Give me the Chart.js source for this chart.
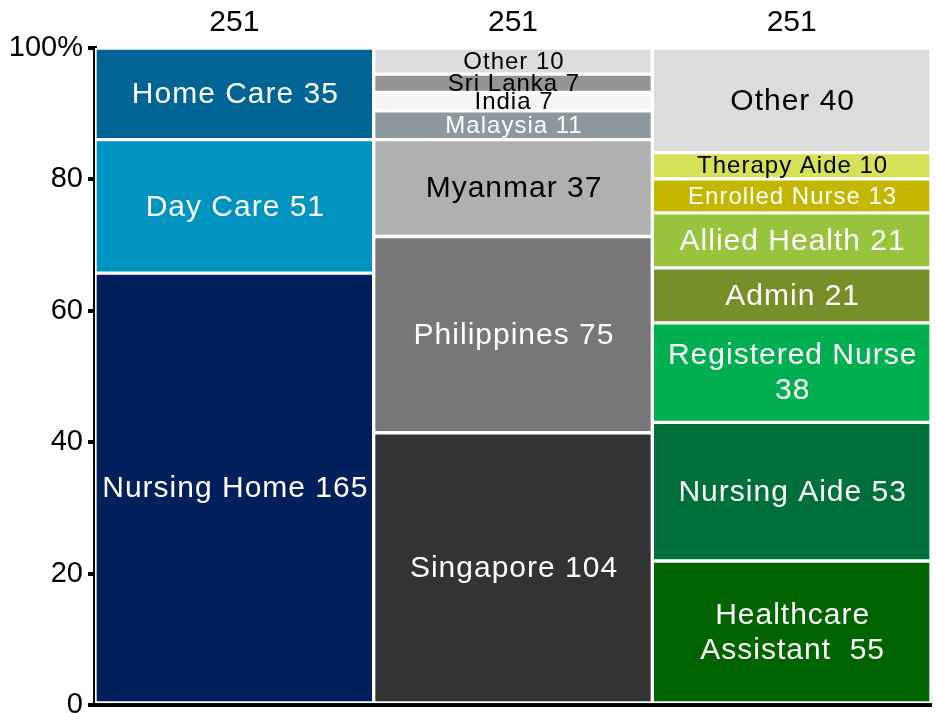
<!DOCTYPE html>
<html>
<head>
<meta charset="utf-8">
<script src="https://cdn.jsdelivr.net/npm/chart.js@4"></script>
<style>
  html, body { margin: 0; padding: 0; background: #fff; }
  #wrap { width: 937px; height: 713px; position: relative; }
</style>
</head>
<body>
<div id="wrap"><canvas id="chart"></canvas></div>
<script>
// categories (columns)
const categories = ['Setting', 'Nationality', 'Job'];

// column 1: care setting
const settingNames = ['Nursing Home', 'Day Care', 'Home Care'];
const settingCounts = [165, 51, 35];
const settingColors = ['#001f5b', '#0093c0', '#006594'];
const settingText = ['#fff', '#fff', '#fff'];

// column 2: nationality
const nationalityNames = ['Singapore', 'Philippines', 'Myanmar', 'Malaysia', 'India', 'Sri Lanka', 'Other'];
const nationalityCounts = [104, 75, 37, 11, 7, 7, 10];
const nationalityColors = ['#333333', '#777777', '#b0b0b0', '#8c979e', '#f5f5f5', '#949494', '#dcdcdc'];
const nationalityText = ['#fff', '#fff', '#000', '#fff', '#000', '#000', '#000'];

// column 3: job
const jobNames = ['Healthcare\nAssistant ', 'Nursing Aide', 'Registered Nurse\n', 'Admin', 'Allied Health', 'Enrolled Nurse', 'Therapy Aide', 'Other'];
const jobCounts = [55, 53, 38, 21, 21, 13, 10, 40];
const jobColors = ['#006400', '#00703a', '#00b050', '#768f28', '#98c33c', '#c5b700', '#d5e157', '#dcdcdc'];
const jobText = ['#fff', '#fff', '#fff', '#fff', '#fff', '#fff', '#000', '#000'];

const groups = [
  { names: settingNames, counts: settingCounts, colors: settingColors, text: settingText },
  { names: nationalityNames, counts: nationalityCounts, colors: nationalityColors, text: nationalityText },
  { names: jobNames, counts: jobCounts, colors: jobColors, text: jobText }
];
const totals = groups.map(g => g.counts.reduce((a, b) => a + b, 0));

const datasets = [];
groups.forEach((g, col) => {
  g.counts.forEach((n, i) => {
    const data = categories.map(() => null);
    data[col] = n / totals[col] * 100;
    datasets.push({
      label: g.names[i].replace('\n', ' ').trim(),
      data,
      backgroundColor: g.colors[i],
      textColor: g.text[i],
      text: g.names[i] + ' ' + n,
      small: n <= 13,
      stack: 's'
    });
  });
});

const FONT = "'Liberation Sans', Arial, sans-serif";

const labelPlugin = {
  id: 'segLabels',
  afterDatasetsDraw(chart) {
    const ctx = chart.ctx;
    ctx.save();
    ctx.textAlign = 'center';
    ctx.textBaseline = 'middle';
    ctx.letterSpacing = '1px';
    chart.data.datasets.forEach((ds, di) => {
      const meta = chart.getDatasetMeta(di);
      meta.data.forEach((bar, i) => {
        if (ds.data[i] == null) return;
        const p = bar.getProps(['x', 'y', 'base'], true);
        const cy = (p.y + p.base) / 2;
        const lines = ds.text.split('\n').map(s => s.replace(/^ /, ''));
        ctx.font = (ds.small ? 24 : 30) + 'px ' + FONT;
        ctx.fillStyle = ds.textColor;
        const lh = 35;
        lines.forEach((ln, k) => {
          ctx.fillText(ln, p.x + 1, cy + 1 + (k - (lines.length - 1) / 2) * lh);
        });
      });
    });
    // totals on top
    const xs = chart.scales.x;
    ctx.fillStyle = '#000';
    ctx.font = '30px ' + FONT;
    ctx.letterSpacing = '0px';
    totals.forEach((t, i) => {
      ctx.fillText(String(t), xs.getPixelForValue(i), 23);
    });
    ctx.restore();
  }
};

new Chart(document.getElementById('chart'), {
  type: 'bar',
  data: { labels: categories, datasets },
  plugins: [labelPlugin],
  options: {
    responsive: true,
    maintainAspectRatio: false,
    animation: false,
    layout: { padding: { top: 48, right: 6, bottom: 8, left: 0 } },
    plugins: { legend: { display: false }, tooltip: { enabled: false } },
    datasets: {
      bar: {
        barPercentage: 1,
        categoryPercentage: 1,
        borderWidth: 2,
        borderColor: '#ffffff',
        borderSkipped: false
      }
    },
    scales: {
      x: {
        stacked: true,
        afterFit(scale) { scale.height = 0; },
        ticks: { display: false },
        grid: { display: false, drawTicks: false },
        border: { display: true, color: '#000', width: 4 }
      },
      y: {
        stacked: true,
        min: 0,
        max: 100,
        afterFit(scale) {
          scale.width = 95;
          scale.paddingTop = 0;
          scale.paddingBottom = 0;
        },
        ticks: {
          stepSize: 20,
          padding: 5,
          color: '#000',
          font: { family: FONT, size: 29 },
          callback: v => (v === 100 ? '100%' : v)
        },
        grid: { drawOnChartArea: false, drawTicks: true, tickLength: 7, color: '#000', lineWidth: 4 },
        border: { display: true, color: '#000', width: 4 }
      }
    }
  }
});
</script>
</body>
</html>
